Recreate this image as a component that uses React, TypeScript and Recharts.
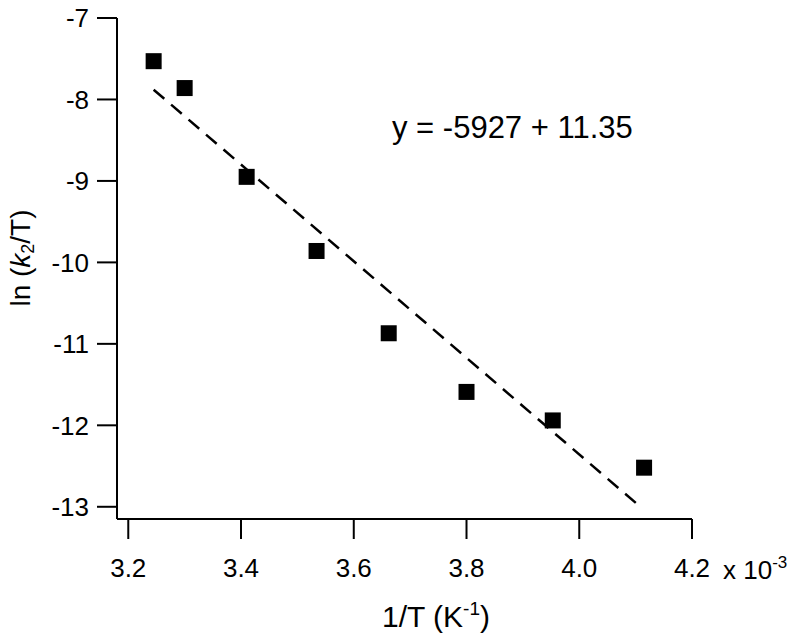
import { ScatterChart, Scatter, XAxis, YAxis, Customized } from 'recharts'

const invT = [3.245, 3.3, 3.41, 3.534, 3.662, 3.8, 3.953, 4.115]
const lnK2T = [-7.53, -7.86, -8.95, -9.86, -10.87, -11.59, -11.94, -12.52]
const fitX = [3.245, 4.11]
const fitY = [-7.88, -13.01]
const xTicks = [3.2, 3.4, 3.6, 3.8, 4.0, 4.2]
const yTicks = [-7, -8, -9, -10, -11, -12, -13]

const FONT = '"Liberation Sans", Arial, sans-serif'

const points = invT.map((x, i) => ({ x, y: lnK2T[i] }))
const fit = fitX.map((x, i) => ({ x, y: fitY[i] }))

// filled square marker, 16px side
const Square = (p: any) => <rect x={p.cx - 8} y={p.cy - 8} width={16} height={16} fill="#000" />

function Annotations() {
  return (
    <g fontFamily={FONT} fill="#000">
      <text x={392} y={138} fontSize={31}>y = -5927 + 11.35</text>
      <text x={436} y={627} fontSize={30} textAnchor="middle">
        1/T (K<tspan fontSize={19} dy={-12}>-1</tspan><tspan dy={12}>)</tspan>
      </text>
      <text x={723} y={579} fontSize={26}>
        x 10<tspan fontSize={17} dy={-11}>-3</tspan>
      </text>
      <text x={20} y={258} fontSize={28} textAnchor="middle" dominantBaseline="central" transform="rotate(-90 20 258)">
        ln (<tspan fontStyle="italic">k</tspan><tspan fontSize={18} dy={8}>2</tspan><tspan dy={-8}>/T)</tspan>
      </text>
    </g>
  )
}

export default function App() {
  return (
    <div style={{ position: 'absolute', left: 0, top: 0, background: '#fff' }}>
      <ScatterChart width={800} height={642} margin={{ top: 18, right: 108, left: 0, bottom: 0 }} style={{ fontFamily: FONT }}>
        <XAxis
          type="number"
          dataKey="x"
          domain={[3.18, 4.2]}
          ticks={xTicks}
          allowDataOverflow
          height={123}
          tickSize={20}
          tickMargin={20}
          tickFormatter={(v: number) => v.toFixed(1)}
          tick={{ fontSize: 26, fill: '#000' }}
          axisLine={{ stroke: '#000', strokeWidth: 2 }}
          tickLine={{ stroke: '#000', strokeWidth: 2 }}
        />
        <YAxis
          type="number"
          dataKey="y"
          domain={[-13.15, -7]}
          ticks={yTicks}
          allowDataOverflow
          width={117}
          tickSize={20}
          tickMargin={8}
          tick={{ fontSize: 26, fill: '#000' }}
          axisLine={{ stroke: '#000', strokeWidth: 2 }}
          tickLine={{ stroke: '#000', strokeWidth: 2 }}
        />
        <Scatter
          data={fit}
          line={{ stroke: '#000', strokeWidth: 2.5, strokeDasharray: '14 9' }}
          shape={() => <g />}
          isAnimationActive={false}
        />
        <Scatter data={points} shape={Square} isAnimationActive={false} />
        <Customized component={Annotations} />
      </ScatterChart>
    </div>
  )
}
